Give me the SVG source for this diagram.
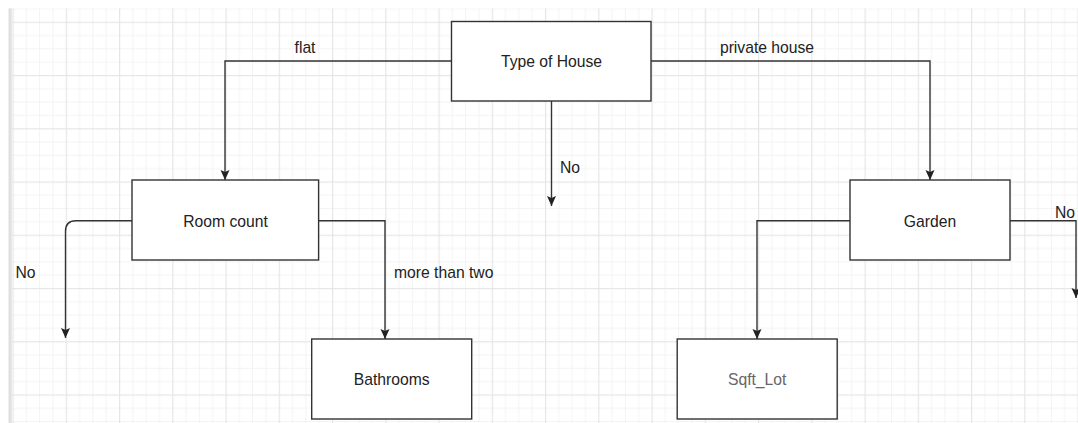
<svg xmlns="http://www.w3.org/2000/svg" width="1078" height="423" viewBox="0 0 1078 423">
  <style>
    .box { fill: #ffffff; stroke: #333333; stroke-width: 1.4; }
    .conn { fill: none; stroke: #333333; stroke-width: 1.4; }
    .lbl { font-family: "Liberation Sans", Arial, sans-serif; font-size: 15.7px; fill: #222222; }
    .mid { text-anchor: middle; }
    .gray { fill: #666666; }
  </style>
  <defs>
    <pattern id="grid" x="12.5" y="21.7" width="53.25" height="53.25" patternUnits="userSpaceOnUse">
      <rect x="13.31" y="0" width="1" height="53.25" fill="#f3f3f3"/>
      <rect x="26.63" y="0" width="1" height="53.25" fill="#f3f3f3"/>
      <rect x="39.94" y="0" width="1" height="53.25" fill="#f3f3f3"/>
      <rect x="0" y="13.31" width="53.25" height="1" fill="#f3f3f3"/>
      <rect x="0" y="26.63" width="53.25" height="1" fill="#f3f3f3"/>
      <rect x="0" y="39.94" width="53.25" height="1" fill="#f3f3f3"/>
      <rect x="0" y="0" width="1.2" height="53.25" fill="#e6e6e6"/>
      <rect x="0" y="0" width="53.25" height="1.2" fill="#e6e6e6"/>
    </pattern>
    <marker id="arrow" viewBox="0 0 10 10" refX="10" refY="5" markerWidth="10" markerHeight="10" markerUnits="userSpaceOnUse" orient="auto">
      <path d="M0,0.5 L10,5 L0,9.5 L2,5 Z" fill="#222222"/>
    </marker>
  </defs>

  <rect x="0" y="0" width="1078" height="423" fill="#ffffff"/>
  <rect x="11.7" y="8.3" width="1066.3" height="414.7" fill="url(#grid)"/>
  <rect x="8.5" y="8.3" width="3.2" height="414.7" fill="#e0e0e0"/>

  <g id="connectors">
    <path class="conn" d="M451.5,61 H225 V180" marker-end="url(#arrow)"/>
    <path class="conn" d="M651,61 H930 V180" marker-end="url(#arrow)"/>
    <path class="conn" d="M551.5,101 V206" marker-end="url(#arrow)"/>
    <path class="conn" d="M132,220.7 H76 Q65.5,220.7 65.5,231.2 V338" marker-end="url(#arrow)"/>
    <path class="conn" d="M318.6,220.7 H385 V339" marker-end="url(#arrow)"/>
    <path class="conn" d="M850,220.7 H757 V339" marker-end="url(#arrow)"/>
    <path class="conn" d="M1010,220.7 H1076 V298" marker-end="url(#arrow)"/>
    <text class="lbl mid" x="305" y="53">flat</text>
    <text class="lbl mid" x="767" y="53">private house</text>
    <text class="lbl" x="560" y="172.5">No</text>
    <text class="lbl" x="15.5" y="278">No</text>
    <text class="lbl" x="394" y="278">more than two</text>
    <text class="lbl" x="1055" y="218">No</text>
  </g>

  <g id="type-of-house">
    <rect class="box" x="451.5" y="21.5" width="199.5" height="79.5"/>
    <text class="lbl mid" x="551.5" y="67">Type of House</text>
  </g>
  <g id="room-count">
    <rect class="box" x="132" y="180" width="186.6" height="80"/>
    <text class="lbl mid" x="225.5" y="226.5">Room count</text>
  </g>
  <g id="bathrooms">
    <rect class="box" x="311.7" y="339" width="160" height="80"/>
    <text class="lbl mid" x="391.7" y="385">Bathrooms</text>
  </g>
  <g id="garden">
    <rect class="box" x="850" y="180" width="160" height="80"/>
    <text class="lbl mid" x="930" y="226.5">Garden</text>
  </g>
  <g id="sqft-lot">
    <rect class="box" x="677.2" y="339" width="160" height="80"/>
    <text class="lbl mid gray" x="757.2" y="385">Sqft_Lot</text>
  </g>
</svg>
